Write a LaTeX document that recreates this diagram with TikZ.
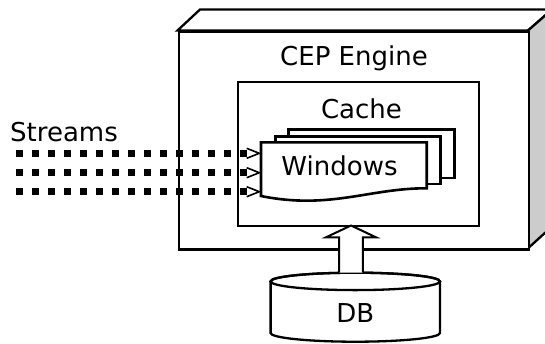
\documentclass[tikz,border=0pt]{standalone}
\usepackage{fontspec}
\setmainfont{DejaVu Sans}
\usetikzlibrary{calc}
\definecolor{sidegray}{RGB}{204,204,204}
\begin{document}
\begin{tikzpicture}[x=1pt,y=-1pt,
  outline/.style={draw=black,line width=2.3pt,line join=miter},
  boxnode/.style={outline,fill=white,rectangle,inner sep=0pt,anchor=north west},
  lbl/.style={font=\fontsize{26}{30}\selectfont,inner sep=0pt,anchor=base},
  stream/.style={line width=7pt,dash pattern=on 7.3pt off 8.7pt},
  openhead/.style={line width=1.6pt,line join=miter},
  blockarrow/.style={draw=black,line width=2pt,fill=white,line join=miter}]
\useasboundingbox (0,0) rectangle (545,343);
% --- CEP engine 3D box ---
\draw[outline,fill=white] (177.5,30.5) -- (200,9.5) -- (552,9.5) -- (528,30.5) -- cycle;
\draw[outline,fill=sidegray] (528,30.5) -- (552,9.5) -- (552,226.5) -- (528,248.3) -- cycle;
\node[boxnode,minimum width=350.5pt,minimum height=217.8pt] (engine) at (177.5,30.5) {};
\node[lbl] (enginelbl) at (354,65.7) {CEP Engine};
% --- Cache ---
\node[boxnode,minimum width=240.5pt,minimum height=144pt] (cache) at (237,81) {};
\node[lbl] (cachelbl) at (361.5,118.3) {Cache};
% --- Windows (stack of documents) ---
\node[boxnode,line width=2.6pt,minimum width=166pt,minimum height=48.4pt] (win3) at (287.3,128.3) {};
\node[boxnode,line width=2.6pt,minimum width=165.3pt,minimum height=47.7pt] (win2) at (274,135) {};
\draw[outline,line width=2.6pt,fill=white] (261,142.3) -- (426.7,142.3) -- (426.7,188.3)
  .. controls (370,188) and (330,210) .. (261,196) -- cycle;
\node[lbl] (winlbl) at (339.5,175) {Windows};
% --- Streams ---
\node[lbl] (streamslbl) at (64,141.7) {Streams};
\foreach \i/\yy in {1/153.3,2/172.7,3/191.7}{
  \coordinate (src\i) at (16,\yy);
  \coordinate (dst\i) at (259.3,\yy);
  \draw[stream] (src\i) -- ($(dst\i)+(-11.3,0)$);
  \draw[openhead] ($(dst\i)+(-12.6,-5)$) -- (dst\i) -- ($(dst\i)+(-12.6,5)$);
}
% --- DB cylinder ---
\draw[outline,fill=white] (270.6,281.4) -- (270.6,333)
  arc[start angle=180,end angle=0,x radius=84.7,y radius=8.7] -- (440,281.4)
  arc[start angle=0,end angle=-180,x radius=84.7,y radius=8.7] -- cycle;
\draw[outline] (355.3,281.4) ellipse[x radius=84.7,y radius=8.7];
\coordinate (dbtop) at (351,272.7);
\node[lbl] (db) at (355.3,322.7) {DB};
% --- block arrow from DB to cache ---
\coordinate (cachein) at (351,225.5);
\draw[blockarrow] ($(dbtop)+(-11.8,0)$) -- ($(cachein)+(-11.8,11.8)$) -- ($(cachein)+(-25,11.8)$)
  -- (cachein) -- ($(cachein)+(25,11.8)$) -- ($(cachein)+(11.8,11.8)$) -- ($(dbtop)+(11.8,0)$);
\end{tikzpicture}
\end{document}
